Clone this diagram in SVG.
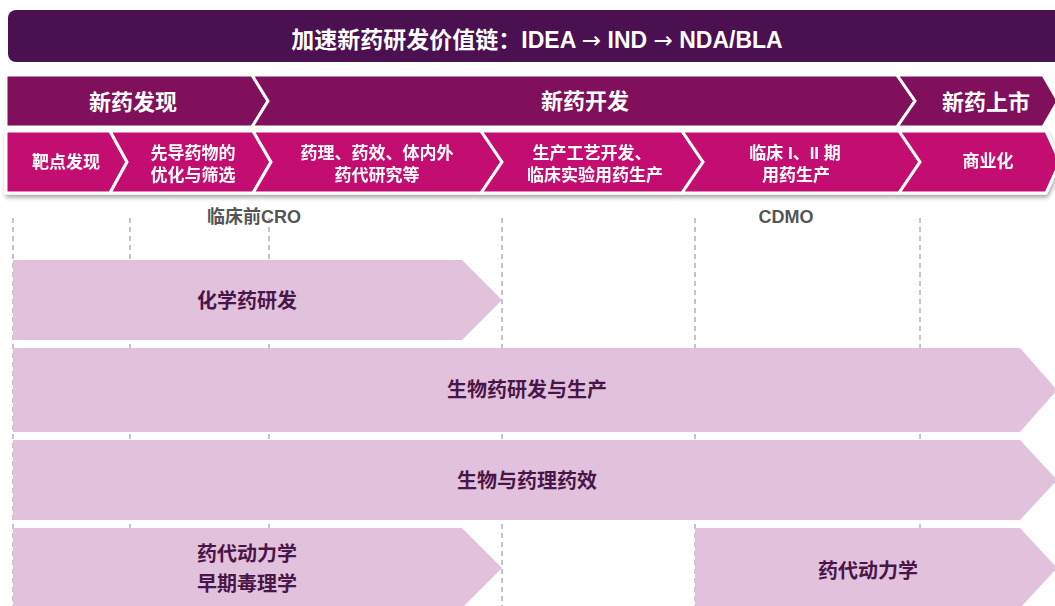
<svg xmlns="http://www.w3.org/2000/svg" width="1055" height="606" viewBox="0 0 1055 606">
<defs>
<filter id="sh" x="-5%" y="-20%" width="110%" height="150%">
<feGaussianBlur in="SourceAlpha" stdDeviation="2"/>
<feOffset dx="1" dy="3" result="b"/>
<feComponentTransfer><feFuncA type="linear" slope="0.35"/></feComponentTransfer>
<feMerge><feMergeNode/><feMergeNode in="SourceGraphic"/></feMerge>
</filter>
</defs>
<style>
text{font-family:"Liberation Sans","Noto Sans CJK SC",sans-serif;font-weight:bold;text-anchor:middle;dominant-baseline:central}
.arr{font-family:"DejaVu Sans",sans-serif;font-weight:normal}
.title{fill:#4a1050}
.phase{fill:#800f5c;stroke:#fff;stroke-width:3;stroke-linejoin:miter}
.sub{fill:#c4106f;stroke:#fff;stroke-width:3;stroke-linejoin:miter}
.bar{fill:#e2c1dc}
.guide{stroke:#8a8a8a;stroke-width:1;stroke-dasharray:5,4;fill:none}
.wt{fill:#fff}
.pt{font-size:22px}
.st{font-size:17px}
.bt{fill:#4a1548;font-size:20px}
.lab{fill:#555;font-size:18px}
</style>
<rect width="1055" height="606" fill="#fff"/>

<g id="title">
<rect class="title" x="8" y="10" width="1056" height="52" rx="8"/>
<text class="wt" x="537" y="40" font-size="23">加速新药研发价值链：IDEA <tspan class="arr">→</tspan> IND <tspan class="arr">→</tspan> NDA/BLA</text>
</g>

<g id="guides">
<line class="guide" x1="13" y1="218" x2="13" y2="606"/>
<line class="guide" x1="130" y1="218" x2="130" y2="606"/>
<line class="guide" x1="269" y1="218" x2="269" y2="606"/>
<line class="guide" x1="502" y1="218" x2="502" y2="606"/>
<line class="guide" x1="695" y1="218" x2="695" y2="606"/>
<line class="guide" x1="920" y1="218" x2="920" y2="606"/>
</g>

<g id="phases">
<g id="phase-discovery">
<polygon class="phase" points="6,75 252,75 268,101 252,127 6,127"/>
<text class="wt pt" x="133" y="102">新药发现</text>
</g>
<g id="phase-development">
<polygon class="phase" points="252,75 897,75 915,101 897,127 252,127 268,101"/>
<text class="wt pt" x="585" y="101">新药开发</text>
</g>
<g id="phase-market">
<polygon class="phase" points="897,75 1043,75 1058,101 1043,127 897,127 915,101"/>
<text class="wt pt" x="986" y="102">新药上市</text>
</g>
</g>

<g id="subphases" filter="url(#sh)">
<g id="sub-target">
<polygon class="sub" points="6,131 110,131 127,162 110,193 6,193"/>
<text class="wt st" x="66" y="162">靶点发现</text>
</g>
<g id="sub-lead">
<polygon class="sub" points="110,131 253,131 271,162 253,193 110,193 127,162"/>
<text class="wt st" x="193" y="153">先导药物的</text>
<text class="wt st" x="193" y="175">优化与筛选</text>
</g>
<g id="sub-pharm">
<polygon class="sub" points="253,131 481,131 502,162 481,193 253,193 271,162"/>
<text class="wt st" x="377" y="153">药理、药效、体内外</text>
<text class="wt st" x="377" y="175">药代研究等</text>
</g>
<g id="sub-process">
<polygon class="sub" points="481,131 682,131 703,162 682,193 481,193 502,162"/>
<text class="wt st" x="592" y="153">生产工艺开发、</text>
<text class="wt st" x="595" y="175">临床实验用药生产</text>
</g>
<g id="sub-clinical">
<polygon class="sub" points="682,131 899,131 920,162 899,193 682,193 703,162"/>
<text class="wt st" x="795" y="153">临床 I、II 期</text>
<text class="wt st" x="796" y="175">用药生产</text>
</g>
<g id="sub-commercial">
<polygon class="sub" points="899,131 1046,131 1060,162 1046,193 899,193 920,162"/>
<text class="wt st" x="988" y="161">商业化</text>
</g>
</g>

<g id="label-cro"><text class="lab" x="254" y="217">临床前CRO</text></g>
<g id="label-cdmo"><text class="lab" x="786" y="217">CDMO</text></g>

<g id="bar-chem">
<polygon class="bar" points="13,260 462,260 502,300 462,340 13,340"/>
<text class="bt" x="247" y="301">化学药研发</text>
</g>
<g id="bar-bio">
<polygon class="bar" points="13,348 1020,348 1057,390 1020,432 13,432"/>
<text class="bt" x="527" y="390">生物药研发与生产</text>
</g>
<g id="bar-pharm">
<polygon class="bar" points="13,440 1020,440 1057,480 1020,520 13,520"/>
<text class="bt" x="527" y="481">生物与药理药效</text>
</g>
<g id="bar-pk-early">
<polygon class="bar" points="13,528 462,528 502,568 462,608 13,608"/>
<text class="bt" x="247" y="554">药代动力学</text>
<text class="bt" x="247" y="584">早期毒理学</text>
</g>
<g id="bar-pk-late">
<polygon class="bar" points="695,528 1020,528 1057,568 1020,608 695,608"/>
<text class="bt" x="868" y="571">药代动力学</text>
</g>
</svg>
